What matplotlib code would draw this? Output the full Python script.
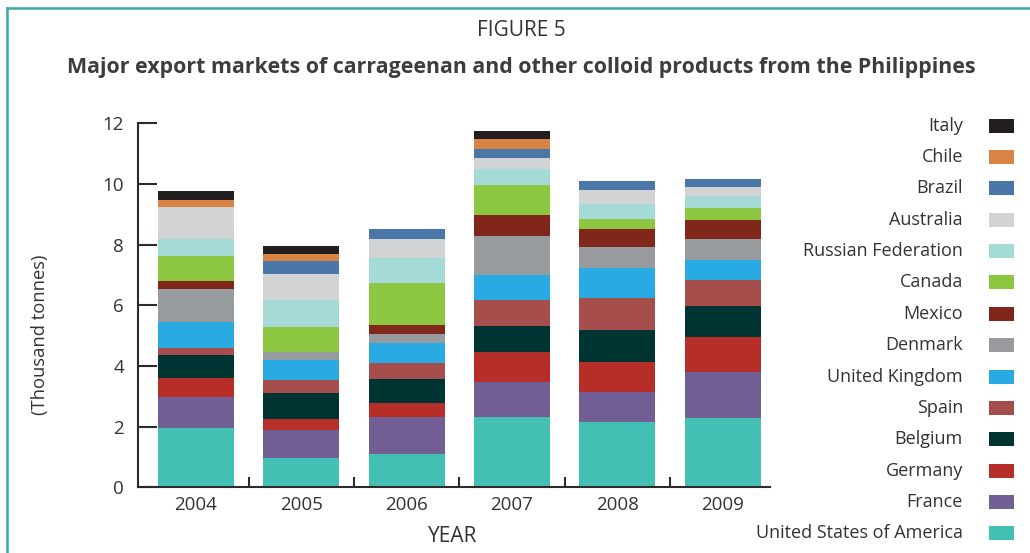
import matplotlib
matplotlib.use("Agg")
import matplotlib.pyplot as plt
from matplotlib.patches import Rectangle
from matplotlib.lines import Line2D
import numpy as np

plt.rcParams['font.family'] = ['Open Sans', 'DejaVu Sans']

years = ["2004", "2005", "2006", "2007", "2008", "2009"]

# Export volumes by destination, thousand tonnes (bottom of stack first)
countries = ["United States of America", "France", "Germany", "Belgium", "Spain",
             "United Kingdom", "Denmark", "Mexico", "Canada", "Russian Federation",
             "Australia", "Brazil", "Chile", "Italy"]

usa       = [1.96, 0.97, 1.10, 2.32, 2.15, 2.29]
france    = [1.02, 0.92, 1.22, 1.15, 0.99, 1.51]
germany   = [0.62, 0.36, 0.46, 0.99, 0.99, 1.16]
belgium   = [0.76, 0.86, 0.79, 0.86, 1.06, 1.02]
spain     = [0.23, 0.43, 0.53, 0.86, 1.05, 0.86]
uk        = [0.86, 0.66, 0.66, 0.82, 0.99, 0.65]
denmark   = [1.09, 0.26, 0.30, 1.29, 0.69, 0.70]
mexico    = [0.26, 0.00, 0.30, 0.69, 0.60, 0.62]
canada    = [0.83, 0.83, 1.39, 0.99, 0.33, 0.40]
russia    = [0.55, 0.89, 0.82, 0.52, 0.49, 0.39]
australia = [1.07, 0.85, 0.63, 0.37, 0.46, 0.30]
brazil    = [0.00, 0.43, 0.33, 0.29, 0.30, 0.26]
chile     = [0.23, 0.23, 0.00, 0.33, 0.00, 0.00]
italy     = [0.30, 0.27, 0.00, 0.27, 0.00, 0.00]

series = [usa, france, germany, belgium, spain, uk, denmark, mexico,
          canada, russia, australia, brazil, chile, italy]

colors = ["#43bfb3", "#705e94", "#b52f28", "#003432", "#a64e4c",
          "#2aaae2", "#979b9e", "#81261b", "#8dc641", "#a5dbd6",
          "#d2d3d5", "#4a76a8", "#d98445", "#231f20"]

yticks = [0, 2, 4, 6, 8, 10, 12]

text_color = "#333333"

fig = plt.figure(figsize=(10.30, 5.53), dpi=100)
ax = fig.add_axes([138 / 1030, 1 - 487.3 / 553, (770 - 138) / 1030, (487.3 - 123.3) / 553])

x = np.arange(len(years))
bottom = np.zeros(len(years))
for vals, col in zip(series, colors):
    v = np.array(vals)
    ax.bar(x, v, width=0.72, bottom=bottom, color=col, linewidth=0)
    bottom += v

ax.set_xlim(-0.55, 5.45)
ax.set_ylim(0, 12)
ax.set_yticks(yticks)
ax.set_yticklabels([str(t) for t in yticks])
ax.set_xticks(x)
ax.set_xticklabels(years)
ax.set_xticks(x[:-1] + 0.5, minor=True)

for s in ["top", "right"]:
    ax.spines[s].set_visible(False)
for s in ["left", "bottom"]:
    ax.spines[s].set_color("#2b2b2b")
    ax.spines[s].set_linewidth(1.5)

ax.tick_params(axis="y", direction="in", length=13.7, width=1.5, color="#2b2b2b",
               labelsize=13.5, labelcolor=text_color, pad=10)
ax.tick_params(axis="x", which="major", length=0, labelsize=13.5,
               labelcolor=text_color, pad=6)
ax.tick_params(axis="x", which="minor", direction="in", length=7, width=1.5,
               color="#2b2b2b")

# Titles and axis labels
fig.text(521 / 1030, 1 - 30 / 553, "FIGURE 5", ha="center", va="center",
         fontsize=15, color=text_color)
fig.text(521 / 1030, 1 - 67 / 553,
         "Major export markets of carrageenan and other colloid products from the Philippines",
         ha="center", va="center", fontsize=15.4, fontweight="bold", color="#3d3d3d")
fig.text(40 / 1030, 1 - 335 / 553, "(Thousand tonnes)", rotation=90,
         ha="center", va="center", fontsize=13.2, color=text_color)
fig.text(453 / 1030, 1 - 536 / 553, "YEAR", ha="center", va="center",
         fontsize=15, color=text_color)

# Legend, top entry first
row0 = 125.7
row_step = 31.35
for i, (name, col) in enumerate(zip(countries[::-1], colors[::-1])):
    yc = row0 + i * row_step
    fig.text(963 / 1030, 1 - yc / 553, name, ha="right", va="center",
             fontsize=13, color=text_color)
    fig.patches.append(Rectangle((989 / 1030, 1 - (yc + 7) / 553), 25 / 1030, 14 / 553,
                                 transform=fig.transFigure, facecolor=col,
                                 edgecolor="none", figure=fig))

# Frame lines along the left and top edges
frame_col = "#3aaaa5"
fig.add_artist(Line2D([7 / 1030, 7 / 1030], [0, 1 - 8 / 553], transform=fig.transFigure,
                      color=frame_col, linewidth=1.8))
fig.add_artist(Line2D([7 / 1030, 1], [1 - 8 / 553, 1 - 8 / 553], transform=fig.transFigure,
                      color=frame_col, linewidth=1.8))

fig.savefig("out.png", dpi=100)
